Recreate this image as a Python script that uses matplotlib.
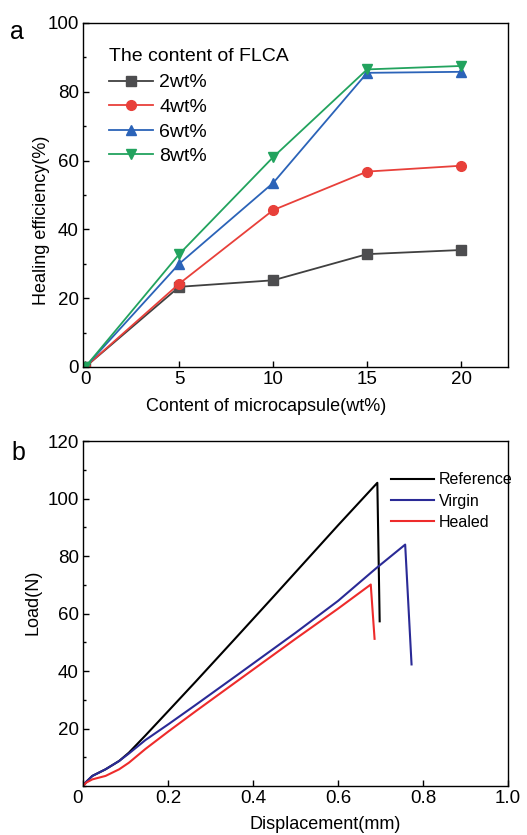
import matplotlib
matplotlib.use("Agg")
import matplotlib.pyplot as plt
from matplotlib.ticker import MultipleLocator

plt.rcParams['font.family'] = ['Liberation Sans', 'DejaVu Sans']

# panel a: healing efficiency vs microcapsule content
capsule = [0, 5, 10, 15, 20]
flca_labels = ['2wt%', '4wt%', '6wt%', '8wt%']
eff_2 = [0, 23.3, 25.2, 32.8, 34.0]
eff_4 = [0, 24.2, 45.6, 56.8, 58.5]
eff_6 = [0, 30.0, 53.5, 85.5, 85.8]
eff_8 = [0, 32.8, 61.0, 86.5, 87.5]

# panel b: load-displacement curves
ref_x = [0, 0.008, 0.022, 0.053, 0.085, 0.108, 0.147, 0.202, 0.265, 0.355, 0.45, 0.6, 0.6925, 0.698]
ref_y = [0, 1.5, 3.5, 5.8, 8.7, 11.6, 17.6, 26.3, 36.3, 50.8, 66.2, 90.7, 105.5, 57.3]
vir_x = [0, 0.008, 0.022, 0.053, 0.085, 0.108, 0.147, 0.202, 0.265, 0.36, 0.5, 0.6, 0.69, 0.758, 0.773]
vir_y = [0, 1.5, 3.5, 5.8, 8.7, 11.3, 16.0, 21.6, 28.2, 38.3, 53.3, 64.4, 75.8, 84.0, 42.3]
hea_x = [0, 0.008, 0.022, 0.053, 0.085, 0.108, 0.147, 0.202, 0.265, 0.36, 0.5, 0.6, 0.677, 0.686]
hea_y = [0, 1.2, 2.3, 3.5, 5.8, 8.1, 12.9, 19.1, 26.0, 36.2, 51.2, 61.7, 70.1, 51.2]

fig = plt.figure(figsize=(5.27, 8.35), dpi=100)
ax1 = fig.add_axes([0.1575, 0.5605, 0.8065, 0.412])
ax2 = fig.add_axes([0.1575, 0.0587, 0.8065, 0.413])

def style_axis(ax):
    for s in ax.spines.values():
        s.set_linewidth(1.0)
    ax.tick_params(which='both', direction='in', top=False, right=False,
                   labelsize=13.5, width=1.0, pad=3)
    ax.tick_params(which='major', length=4)
    ax.tick_params(which='minor', length=2.5)

# ---- panel a
series = [
    (eff_2, '#404040', '#4d4d4f', 's', 6.5),
    (eff_4, '#e8403a', '#e8403a', 'o', 7),
    (eff_6, '#2b63b8', '#2b63b8', '^', 7.5),
    (eff_8, '#22a35e', '#22a35e', 'v', 7.5),
]
for (vals, lc, mc, mk, ms), lab in zip(series, flca_labels):
    ax1.plot(capsule, vals, color=lc, lw=1.3, marker=mk, ms=ms,
             mfc=mc, mec=mc, label=lab)

ax1.set_xlim(-0.12, 22.5)
ax1.set_ylim(0, 100)
ax1.xaxis.set_major_locator(MultipleLocator(5))
ax1.yaxis.set_major_locator(MultipleLocator(20))
ax1.yaxis.set_minor_locator(MultipleLocator(10))
style_axis(ax1)
ax1.set_xlabel('Content of microcapsule(wt%)', fontsize=13)
ax1.set_ylabel('Healing efficiency(%)', fontsize=13)
ax1.xaxis.label.set_verticalalignment('center')
ax1.yaxis.label.set_verticalalignment('center')
ax1.xaxis.set_label_coords(0.43, -0.116)
ax1.yaxis.set_label_coords(-0.098, 0.427)

leg1 = ax1.legend(loc='upper left', bbox_to_anchor=(0.06, 0.926), frameon=False,
                  title='The content of FLCA', title_fontsize=14, fontsize=14,
                  handlelength=2.3, handletextpad=0.3, labelspacing=0.36,
                  borderaxespad=0, borderpad=0, numpoints=1)
leg1._legend_box.align = 'left'
leg1._legend_box.sep = 6
fig.text(0.032, 0.962, 'a', fontsize=18, ha='center', va='center')

# ---- panel b
ax2.plot(ref_x, ref_y, color='#000000', lw=1.5, label='Reference')
ax2.plot(vir_x, vir_y, color='#2a2a96', lw=1.5, label='Virgin')
ax2.plot(hea_x, hea_y, color='#ee2b2b', lw=1.5, label='Healed')

ax2.set_xlim(0, 1.0)
ax2.set_ylim(0, 120)
ax2.set_xticks([0, 0.2, 0.4, 0.6, 0.8, 1.0])
ax2.set_xticklabels(['0', '0.2', '0.4', '0.6', '0.8', '1.0'])
ax2.set_yticks([20, 40, 60, 80, 100, 120])
ax2.yaxis.set_minor_locator(MultipleLocator(10))
style_axis(ax2)
ax2.get_xticklabels()[0].set_horizontalalignment('right')
ax2.set_xlabel('Displacement(mm)', fontsize=13)
ax2.set_ylabel('Load(N)', fontsize=13)
ax2.xaxis.label.set_verticalalignment('center')
ax2.yaxis.label.set_verticalalignment('center')
ax2.xaxis.set_label_coords(0.57, -0.113)
ax2.yaxis.set_label_coords(-0.118, 0.533)

ax2.legend(loc='upper left', bbox_to_anchor=(0.725, 0.91), frameon=False,
           fontsize=11.5, handlelength=2.7, handletextpad=0.3, labelspacing=0.4,
           borderaxespad=0, borderpad=0)
fig.text(0.034, 0.457, 'b', fontsize=18, ha='center', va='center')

fig.savefig('out.png', dpi=100)
